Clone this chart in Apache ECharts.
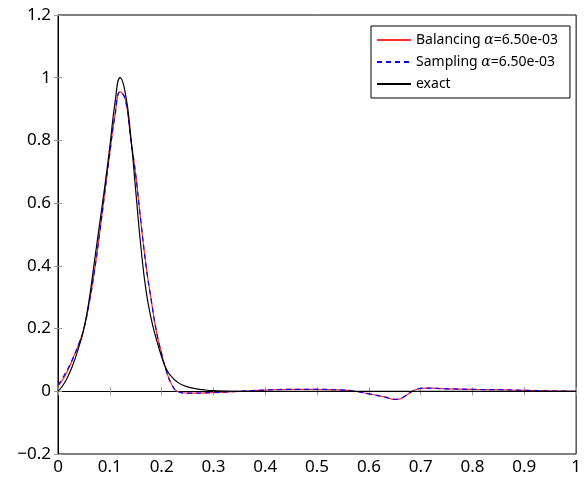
<!DOCTYPE html>
<html>
<head>
<meta charset="utf-8">
<script src="https://cdn.jsdelivr.net/npm/echarts@6/dist/echarts.min.js"></script>
<style>
html, body { margin: 0; padding: 0; background: #fff; }
#chart { width: 584px; height: 479px; }
</style>
</head>
<body>
<div id="chart"></div>
<script>
// values
var exactX = [0, 0.01, 0.02, 0.03, 0.04, 0.05, 0.06, 0.07, 0.08, 0.09, 0.10, 0.11, 0.12, 0.13, 0.14, 0.15, 0.16, 0.17, 0.18, 0.19, 0.20, 0.21, 0.22, 0.23, 0.24, 0.26, 0.28, 0.30, 0.35, 0.5, 0.7, 1.0];
var exactY = [0, 0.02, 0.05, 0.09, 0.14, 0.20, 0.29, 0.41, 0.53, 0.65, 0.78, 0.92, 1.0, 0.95, 0.82, 0.64, 0.46, 0.32, 0.23, 0.165, 0.11, 0.068, 0.045, 0.03, 0.02, 0.01, 0.005, 0.002, 0, 0, 0, 0];

var approxX = [0, 0.01, 0.02, 0.03, 0.04, 0.05, 0.06, 0.07, 0.08, 0.09, 0.10, 0.11, 0.12, 0.13, 0.14, 0.15, 0.16, 0.17, 0.18, 0.19, 0.20, 0.21, 0.22, 0.23, 0.25, 0.30, 0.35, 0.40, 0.45, 0.50, 0.55, 0.57, 0.60, 0.63, 0.65, 0.66, 0.67, 0.68, 0.69, 0.70, 0.71, 0.75, 0.80, 0.85, 0.90, 0.95, 1.0];
var balancingY = [0.015, 0.04, 0.07, 0.11, 0.15, 0.20, 0.28, 0.38, 0.50, 0.63, 0.76, 0.88, 0.955, 0.93, 0.81, 0.69, 0.54, 0.40, 0.29, 0.19, 0.12, 0.06, 0.02, 0.0, -0.006, -0.004, 0, 0.004, 0.006, 0.006, 0.004, 0.001, -0.008, -0.018, -0.026, -0.024, -0.015, -0.004, 0.005, 0.009, 0.01, 0.008, 0.006, 0.005, 0.003, 0.001, 0];
var samplingY = [0.02, 0.045, 0.075, 0.11, 0.15, 0.20, 0.28, 0.38, 0.50, 0.63, 0.76, 0.88, 0.955, 0.93, 0.81, 0.69, 0.54, 0.40, 0.29, 0.19, 0.12, 0.06, 0.02, 0.0, -0.006, -0.004, 0, 0.004, 0.006, 0.006, 0.004, 0.001, -0.008, -0.018, -0.026, -0.024, -0.015, -0.004, 0.005, 0.009, 0.01, 0.008, 0.006, 0.005, 0.003, 0.001, 0];

var seriesNames = ['Balancing', 'Sampling', 'exact'];

function pairs(xs, ys) {
    return xs.map(function (x, i) { return [x, ys[i]]; });
}

var chart = echarts.init(document.getElementById('chart'));

var tickStyle = { show: true, inside: true, length: 4, lineStyle: { color: '#999' } };
var fontFam = '"Noto Sans", sans-serif';

var option = {
    animation: false,
    backgroundColor: '#fff',
    grid: {
        left: 58, right: 4, top: 15, bottom: 25,
        show: true, borderColor: '#000', borderWidth: 1
    },
    legend: {
        orient: 'vertical',
        left: 371, top: 26,
        padding: [7, 12, 7, 5],
        itemWidth: 34, itemHeight: 14, itemGap: 8,
        borderColor: '#000', borderWidth: 1,
        backgroundColor: '#fff',
        itemStyle: { opacity: 0 },
        data: seriesNames,
        formatter: function (name) {
            if (name === 'exact') return '{t|exact}';
            return '{t|' + name + ' }{i|α}{t|=6.50e-03}';
        },
        textStyle: {
            rich: {
                t: { fontFamily: fontFam, fontSize: 14, color: '#000' },
                i: { fontFamily: '"DejaVu Serif", serif', fontStyle: 'italic', fontSize: 14, color: '#000' }
            }
        }
    },
    xAxis: [
        {
            type: 'value', min: 0, max: 1, interval: 0.1,
            axisLine: { show: true, lineStyle: { color: '#000' } },
            axisTick: tickStyle,
            splitLine: { show: false },
            axisLabel: { fontFamily: fontFam, fontSize: 17, color: '#000', margin: 5 }
        },
        {
            type: 'value', min: 0, max: 1, interval: 0.1, position: 'top',
            axisLine: { show: false },
            axisTick: tickStyle,
            splitLine: { show: false },
            axisLabel: { show: false }
        }
    ],
    yAxis: [
        {
            type: 'value', min: -0.2, max: 1.2, interval: 0.2,
            axisLine: { show: true, lineStyle: { color: '#000' } },
            axisTick: tickStyle,
            splitLine: { show: false },
            axisLabel: {
                fontFamily: fontFam, fontSize: 17, color: '#000', margin: 7,
                formatter: function (v) {
                    var s = String(Math.round(v * 10) / 10);
                    return s.replace('-', '\u2212');
                }
            }
        },
        {
            type: 'value', min: -0.2, max: 1.2, interval: 0.2, position: 'right',
            axisLine: { show: false },
            axisTick: tickStyle,
            splitLine: { show: false },
            axisLabel: { show: false }
        }
    ],
    series: [
        {
            name: 'Balancing', type: 'line', symbol: 'none', smooth: 0.5,
            data: pairs(approxX, balancingY),
            lineStyle: { color: '#ff2a2a', width: 1.2 },
            itemStyle: { color: '#ff2a2a' }
        },
        {
            name: 'Sampling', type: 'line', symbol: 'none', smooth: 0.5,
            data: pairs(approxX, samplingY),
            lineStyle: { color: '#0000ff', width: 1.2, type: [5, 4] },
            itemStyle: { color: '#0000ff' }
        },
        {
            name: 'exact', type: 'line', symbol: 'none', smooth: 0.5,
            data: pairs(exactX, exactY),
            lineStyle: { color: '#000', width: 1.2 },
            itemStyle: { color: '#000' }
        }
    ]
};

chart.setOption(option);
</script>
</body>
</html>
